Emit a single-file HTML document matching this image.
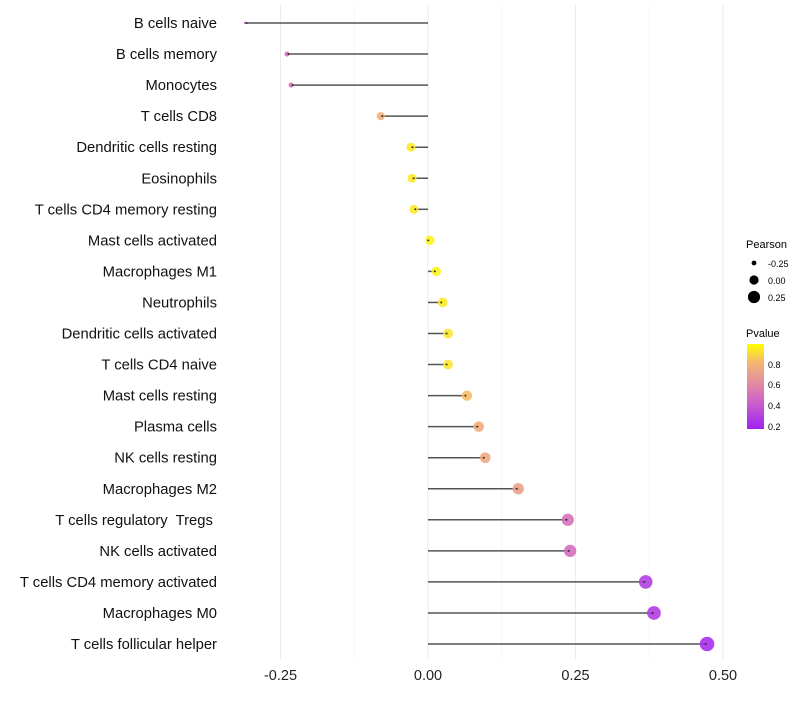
<!DOCTYPE html>
<html><head><meta charset="utf-8"><style>
body{margin:0;background:#fff;font-family:"Liberation Sans",sans-serif}
svg text{font-family:"Liberation Sans",sans-serif;white-space:pre}
</style></head><body>
<svg id="chart" width="800" height="700" xmlns="http://www.w3.org/2000/svg">
<defs><linearGradient id="pg" x1="0" y1="1" x2="0" y2="0">
<stop offset="0" stop-color="#a020f0"/><stop offset="0.28" stop-color="#c85ad0"/><stop offset="0.53" stop-color="#e28aa2"/><stop offset="0.78" stop-color="#f4b673"/><stop offset="1" stop-color="#ffff00"/></linearGradient></defs>
<g id="grid"></g>
<g id="marks"></g>
<g id="ylabels"></g>
<g id="xlabels"></g>
<g>
<text x="746" y="248" font-size="11">Pearson</text>
<circle cx="754" cy="263" r="2.4" fill="#000"/><text x="768" y="267" font-size="9">-0.25</text>
<circle cx="754" cy="280" r="4.6" fill="#000"/><text x="768" y="284" font-size="9">0.00</text>
<circle cx="754" cy="297" r="6.1" fill="#000"/><text x="768" y="301" font-size="9">0.25</text>
</g>
<g>
<text x="746" y="337" font-size="11">Pvalue</text>
<rect x="747" y="344" width="17" height="85" fill="url(#pg)"/>
<text x="768" y="368" font-size="9">0.8</text><text x="768" y="388" font-size="9">0.6</text>
<text x="768" y="409" font-size="9">0.4</text><text x="768" y="430" font-size="9">0.2</text>
</g>
</svg>
<script>
const categories=["B cells naive","B cells memory","Monocytes","T cells CD8","Dendritic cells resting","Eosinophils","T cells CD4 memory resting","Mast cells activated","Macrophages M1","Neutrophils","Dendritic cells activated","T cells CD4 naive","Mast cells resting","Plasma cells","NK cells resting","Macrophages M2","T cells regulatory  Tregs ","NK cells activated","T cells CD4 memory activated","Macrophages M0","T cells follicular helper"];
const pearson=[-0.31,-0.239,-0.232,-0.080,-0.029,-0.027,-0.024,0.003,0.014,0.025,0.034,0.034,0.066,0.086,0.097,0.153,0.237,0.241,0.369,0.383,0.473];
const pvalue=[0.35,0.48,0.48,0.78,0.93,0.93,0.93,0.96,0.95,0.93,0.92,0.92,0.82,0.76,0.74,0.7,0.48,0.47,0.25,0.24,0.18];
const xTicks=[-0.25,0,0.25,0.5];
const xTickLabels=["-0.25","0.00","0.25","0.50"];
const NS="http://www.w3.org/2000/svg";
const X=v=>428+v*590;
const Y=i=>23+i*31.05;
const R=v=>Math.sqrt(Math.max(1,22+66*v));
const stops=[[0.18,[168,48,236]],[0.4,[204,96,204]],[0.6,[226,138,162]],[0.8,[244,182,115]],[0.97,[255,250,20]]];
function col(p){if(p<=stops[0][0])return`rgb(${stops[0][1]})`;for(let i=1;i<stops.length;i++){if(p<=stops[i][0]){const a=stops[i-1],b=stops[i],t=(p-a[0])/(b[0]-a[0]);return`rgb(${a[1].map((c,k)=>Math.round(c+(b[1][k]-c)*t)).join(",")})`;}}return"rgb(255,250,20)";}
function mk(t,a,p){const e=document.createElementNS(NS,t);for(const k in a)e.setAttribute(k,a[k]);p.appendChild(e);return e;}
const grid=document.getElementById('grid'),marks=document.getElementById('marks'),yl=document.getElementById('ylabels'),xl=document.getElementById('xlabels');
for(let v=-0.375;v<=0.6;v+=0.125){const x=X(v);if(x<225||x>740)continue;const major=Math.abs(v/0.25-Math.round(v/0.25))<1e-6;
const l=mk('line',{x1:x,x2:x,y1:5,y2:660,stroke:major?'#ebebeb':'#f4f4f4','stroke-width':major?1:0.7},grid);

}
xTicks.forEach((v,i)=>{const t=mk('text',{x:X(v),y:680,'font-size':14.5,'text-anchor':'middle',fill:'#222'},xl);t.textContent=xTickLabels[i];

});
categories.forEach((c,i)=>{const y=Y(i);
const t=mk('text',{x:217,y:y+5,'font-size':14.8,'text-anchor':'end',fill:'#111'},yl);t.textContent=c;


const ln=mk('line',{x1:X(0),x2:X(pearson[i]),y1:y,y2:y,stroke:'#555','stroke-width':1.5},marks);


const ci=mk('circle',{cx:X(pearson[i]),cy:y,r:R(pearson[i]),fill:col(pvalue[i]),'fill-opacity':0.9},marks);


const d=mk('circle',{cx:X(pearson[i])+(pearson[i]<0?1.5:-1.5),cy:y,r:1,fill:'#333'},marks);

});
</script>
</body></html>
